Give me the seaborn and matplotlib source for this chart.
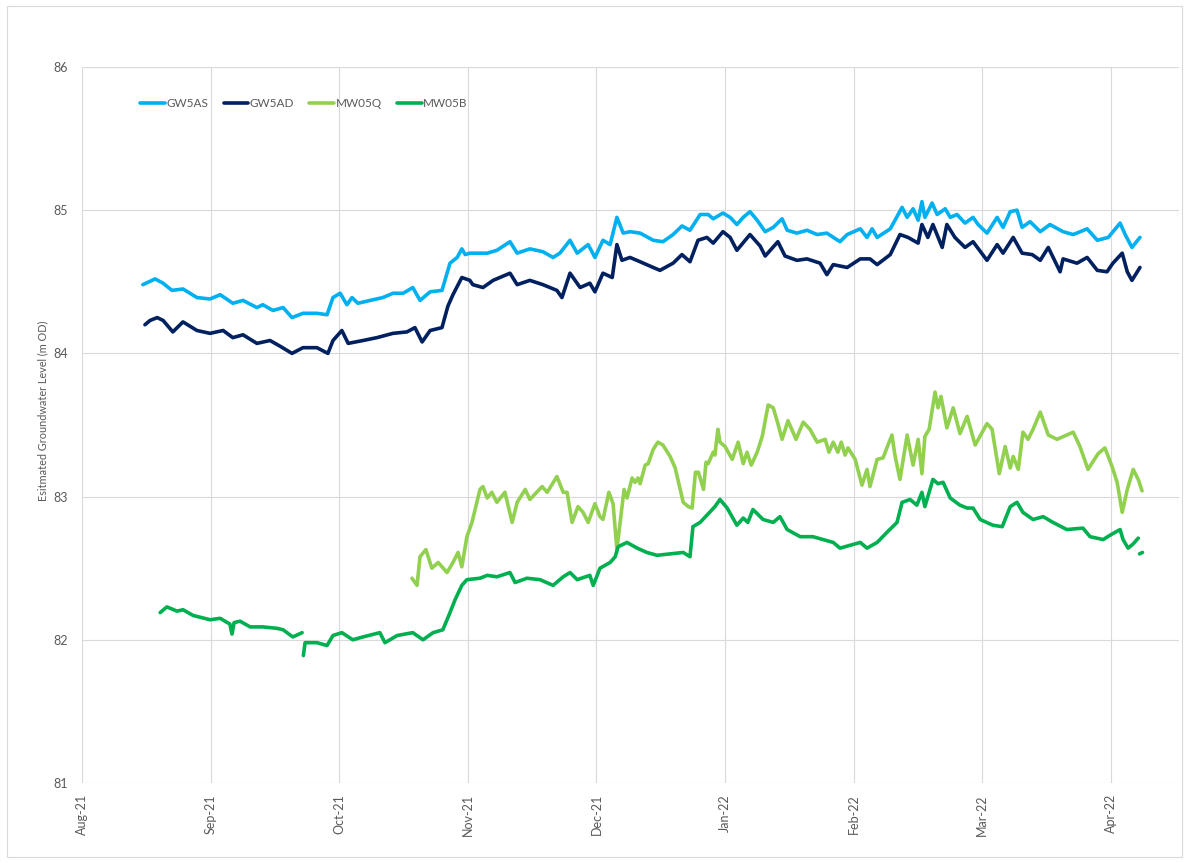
import matplotlib
matplotlib.use("Agg")
import matplotlib.pyplot as plt
from matplotlib.patches import Rectangle
import pandas as pd
import seaborn as sns

# Month labels along the x axis (equally spaced, one per month)
months = ["Aug-21", "Sep-21", "Oct-21", "Nov-21", "Dec-21",
          "Jan-22", "Feb-22", "Mar-22", "Apr-22"]
MONTH_DAYS = 365.25 / 12  # spacing of the month ticks, in days since 1 Aug 2021

# Groundwater levels (m OD) as (days since 1 Aug 2021, level)
gw5as = [
    (14.4, 84.48), (17.3, 84.52), (19.2, 84.49), (21.3, 84.44), (23.9, 84.45),
    (27.2, 84.39), (30.3, 84.38), (32.7, 84.41), (35.7, 84.35), (38.1, 84.37),
    (41.4, 84.32), (42.8, 84.34), (45.2, 84.30), (47.6, 84.32), (49.7, 84.25),
    (52.3, 84.28), (55.6, 84.28), (58.0, 84.27), (59.4, 84.39), (61.1, 84.42),
    (62.7, 84.34), (63.9, 84.39), (65.3, 84.35), (68.2, 84.37), (71.2, 84.39),
    (73.6, 84.42), (76.0, 84.42), (78.3, 84.46), (80.0, 84.37), (82.4, 84.43),
    (85.2, 84.44), (87.1, 84.63), (88.8, 84.67), (89.9, 84.73), (90.7, 84.69),
    (91.8, 84.70), (95.9, 84.70), (98.2, 84.72), (101.3, 84.78), (103.0, 84.70),
    (106.0, 84.73), (109.1, 84.71), (111.5, 84.67), (113.1, 84.70), (115.5, 84.79),
    (117.2, 84.70), (119.8, 84.76), (121.4, 84.67), (123.3, 84.79), (125.0, 84.76),
    (126.6, 84.95), (128.1, 84.84), (129.7, 84.85), (132.1, 84.84), (135.2, 84.79),
    (137.5, 84.78), (139.9, 84.83), (142.0, 84.89), (143.9, 84.86), (146.3, 84.97),
    (148.2, 84.97), (149.4, 84.94), (151.7, 84.98), (153.4, 84.95), (155.0, 84.90),
    (156.5, 84.95), (158.1, 84.99), (159.8, 84.93), (161.7, 84.85), (163.6, 84.88),
    (165.7, 84.94), (166.9, 84.86), (169.2, 84.84), (171.6, 84.86), (174.0, 84.83),
    (176.3, 84.84), (179.4, 84.78), (181.1, 84.83), (184.2, 84.87), (185.8, 84.81),
    (187.0, 84.87), (188.2, 84.81), (191.3, 84.87), (194.1, 85.02), (195.3, 84.95),
    (196.7, 85.01), (197.9, 84.93), (198.8, 85.06), (199.5, 84.95), (201.2, 85.05),
    (202.4, 84.97), (204.3, 85.01), (205.5, 84.95), (207.1, 84.97), (209.0, 84.91),
    (210.9, 84.95), (212.1, 84.90), (214.2, 84.84), (216.6, 84.95), (218.0, 84.88),
    (219.7, 84.99), (221.3, 85.00), (222.5, 84.88), (224.4, 84.92), (226.8, 84.85),
    (229.1, 84.90), (232.2, 84.85), (234.6, 84.83), (237.9, 84.87), (240.3, 84.79),
    (242.9, 84.81), (245.7, 84.91), (246.9, 84.83), (248.5, 84.74), (250.4, 84.81),
]

gw5ad = [
    (14.9, 84.20), (16.1, 84.23), (17.8, 84.25), (19.2, 84.23), (21.5, 84.15),
    (23.9, 84.22), (27.2, 84.16), (30.3, 84.14), (33.4, 84.16), (35.7, 84.11),
    (38.1, 84.13), (41.4, 84.07), (44.5, 84.09), (46.9, 84.05), (49.7, 84.00),
    (52.3, 84.04), (55.6, 84.04), (58.2, 84.00), (59.4, 84.09), (61.5, 84.16),
    (63.0, 84.07), (66.5, 84.09), (69.8, 84.11), (73.6, 84.14), (76.9, 84.15),
    (78.8, 84.18), (80.5, 84.08), (82.4, 84.16), (85.2, 84.18), (86.6, 84.33),
    (87.8, 84.41), (89.9, 84.53), (91.8, 84.51), (92.5, 84.48), (94.9, 84.46),
    (97.3, 84.51), (101.3, 84.56), (103.0, 84.48), (106.0, 84.51), (109.1, 84.48),
    (112.4, 84.44), (113.6, 84.39), (115.5, 84.56), (117.9, 84.46), (120.2, 84.49),
    (121.4, 84.43), (123.3, 84.56), (125.5, 84.53), (126.6, 84.76), (127.8, 84.65),
    (129.7, 84.67), (132.1, 84.64), (135.2, 84.60), (136.8, 84.58), (139.9, 84.63),
    (142.0, 84.69), (143.9, 84.64), (145.8, 84.79), (147.9, 84.81), (149.4, 84.77),
    (151.7, 84.85), (153.4, 84.81), (155.0, 84.72), (158.1, 84.83), (160.5, 84.75),
    (161.7, 84.68), (164.7, 84.78), (166.4, 84.68), (169.2, 84.65), (171.6, 84.66),
    (174.7, 84.63), (176.3, 84.55), (177.8, 84.62), (181.1, 84.60), (184.2, 84.66),
    (186.5, 84.66), (188.2, 84.62), (191.3, 84.69), (193.6, 84.83), (195.5, 84.81),
    (197.9, 84.77), (198.8, 84.90), (200.2, 84.81), (201.4, 84.90), (203.6, 84.74),
    (204.7, 84.90), (206.6, 84.81), (209.0, 84.74), (210.9, 84.78), (214.2, 84.65),
    (216.6, 84.76), (218.0, 84.70), (220.4, 84.81), (222.5, 84.70), (224.9, 84.69),
    (226.8, 84.65), (228.7, 84.74), (231.5, 84.57), (232.2, 84.66), (235.5, 84.63),
    (237.9, 84.67), (240.3, 84.58), (242.6, 84.57), (244.0, 84.63), (246.2, 84.70),
    (247.4, 84.57), (248.5, 84.51), (250.4, 84.60),
]

mw05q = [
    (78.1, 82.43), (79.3, 82.38), (80.0, 82.58), (81.4, 82.63), (82.8, 82.50),
    (84.3, 82.54), (86.4, 82.47), (87.8, 82.54), (89.0, 82.61), (89.9, 82.51),
    (91.1, 82.72), (92.3, 82.82), (94.2, 83.05), (94.9, 83.07), (95.9, 82.99),
    (97.0, 83.03), (98.2, 82.96), (100.1, 83.03), (101.8, 82.82), (103.0, 82.96),
    (104.9, 83.05), (106.0, 82.98), (108.9, 83.07), (110.1, 83.03), (112.4, 83.14),
    (113.9, 83.03), (114.8, 83.03), (116.0, 82.82), (117.4, 82.93), (118.6, 82.89),
    (119.8, 82.82), (121.4, 82.95), (122.6, 82.86), (123.3, 82.84), (124.7, 83.03),
    (125.7, 82.95), (126.6, 82.63), (128.3, 83.05), (129.0, 82.99), (130.2, 83.13),
    (130.9, 83.10), (131.6, 83.13), (132.1, 83.09), (133.3, 83.22), (134.0, 83.23),
    (135.2, 83.33), (136.3, 83.38), (137.5, 83.36), (139.2, 83.28), (140.4, 83.20),
    (141.6, 83.05), (142.3, 82.96), (143.5, 82.93), (144.4, 82.92), (145.2, 83.17),
    (145.9, 83.17), (147.1, 83.05), (147.7, 83.24), (148.2, 83.23), (149.4, 83.31),
    (149.8, 83.29), (150.5, 83.47), (151.0, 83.38), (152.2, 83.35), (153.9, 83.26),
    (155.3, 83.38), (156.5, 83.23), (157.4, 83.31), (158.4, 83.22), (159.8, 83.31),
    (161.0, 83.42), (162.4, 83.64), (163.6, 83.62), (164.7, 83.51), (165.7, 83.40),
    (167.1, 83.53), (169.0, 83.40), (170.7, 83.52), (172.3, 83.47), (174.0, 83.38),
    (175.9, 83.40), (176.8, 83.31), (177.8, 83.38), (178.9, 83.31), (179.7, 83.38),
    (180.6, 83.29), (181.3, 83.34), (183.0, 83.26), (184.6, 83.08), (185.8, 83.19),
    (186.5, 83.07), (188.2, 83.26), (189.6, 83.27), (190.5, 83.34), (191.7, 83.43),
    (192.4, 83.29), (193.6, 83.12), (195.3, 83.43), (196.7, 83.22), (197.9, 83.40),
    (198.8, 83.16), (199.5, 83.42), (200.5, 83.47), (201.9, 83.73), (202.6, 83.62),
    (203.3, 83.70), (204.7, 83.48), (206.2, 83.62), (207.8, 83.44), (209.5, 83.56),
    (211.4, 83.36), (214.2, 83.51), (215.4, 83.47), (217.1, 83.16), (218.5, 83.35),
    (219.7, 83.20), (220.4, 83.28), (221.6, 83.19), (222.7, 83.45), (223.9, 83.40),
    (225.1, 83.47), (226.8, 83.59), (228.7, 83.43), (230.8, 83.40), (234.6, 83.45),
    (236.2, 83.35), (238.1, 83.19), (240.5, 83.30), (242.1, 83.34), (243.8, 83.21),
    (245.0, 83.10), (246.2, 82.89), (247.4, 83.05), (248.8, 83.19), (250.0, 83.12),
    (250.9, 83.04),
]

# MW05B is logged in three separate runs
mw05b_run1 = [
    (18.5, 82.19), (20.1, 82.23), (22.5, 82.20), (23.9, 82.21), (26.3, 82.17),
    (30.3, 82.14), (32.7, 82.15), (35.0, 82.11), (35.5, 82.04), (36.0, 82.12),
    (37.4, 82.13), (39.8, 82.09), (42.8, 82.09), (46.2, 82.08), (47.6, 82.07),
    (49.9, 82.02), (52.1, 82.05),
]
mw05b_run2 = [
    (52.4, 81.89), (52.8, 81.98), (55.6, 81.98), (58.0, 81.96), (59.4, 82.03),
    (61.5, 82.05), (64.1, 82.00), (66.5, 82.02), (70.5, 82.05), (71.7, 81.98),
    (74.6, 82.03), (78.3, 82.05), (80.7, 82.00), (83.1, 82.05), (85.4, 82.07),
    (87.1, 82.19), (88.3, 82.28), (89.9, 82.38), (91.1, 82.42), (94.2, 82.43),
    (95.9, 82.45), (98.2, 82.44), (101.3, 82.47), (102.5, 82.40), (105.3, 82.43),
    (108.4, 82.42), (111.5, 82.38), (113.9, 82.44), (115.5, 82.47), (117.2, 82.42),
    (120.2, 82.45), (121.0, 82.38), (122.6, 82.50), (125.0, 82.54), (126.2, 82.58),
    (126.9, 82.65), (129.0, 82.68), (131.4, 82.64), (133.7, 82.61), (136.1, 82.59),
    (139.2, 82.60), (142.3, 82.61), (143.9, 82.58), (144.6, 82.79), (146.3, 82.82),
    (147.9, 82.87), (149.8, 82.93), (151.0, 82.98), (152.7, 82.92), (155.0, 82.80),
    (156.5, 82.85), (157.6, 82.82), (158.8, 82.91), (161.2, 82.84), (163.6, 82.82),
    (165.2, 82.86), (166.9, 82.77), (170.0, 82.72), (173.0, 82.72), (175.4, 82.70),
    (177.8, 82.68), (179.4, 82.64), (181.8, 82.66), (184.2, 82.68), (185.8, 82.64),
    (188.2, 82.68), (190.5, 82.75), (192.9, 82.82), (194.1, 82.96), (196.0, 82.98),
    (197.6, 82.94), (198.8, 83.03), (199.5, 82.93), (201.4, 83.12), (202.6, 83.09),
    (203.8, 83.10), (205.5, 82.99), (207.8, 82.94), (209.5, 82.92), (210.9, 82.92),
    (212.6, 82.84), (215.6, 82.80), (217.8, 82.79), (219.7, 82.93), (221.3, 82.96),
    (222.7, 82.89), (225.1, 82.84), (227.5, 82.86), (229.8, 82.82), (233.1, 82.77),
    (236.9, 82.78), (238.6, 82.72), (241.7, 82.70), (243.3, 82.73), (245.7, 82.77),
    (246.4, 82.70), (247.6, 82.64), (248.8, 82.67), (250.0, 82.71),
]
mw05b_run3 = [(250.3, 82.60), (251.0, 82.61)]

series_order = ["GW5AS", "GW5AD", "MW05Q", "MW05B"]
series_colors = {"GW5AS": "#00B0F0", "GW5AD": "#002060",
                 "MW05Q": "#92D050", "MW05B": "#00B050"}

runs = [("GW5AS", "GW5AS-1", gw5as), ("GW5AD", "GW5AD-1", gw5ad),
        ("MW05Q", "MW05Q-1", mw05q), ("MW05B", "MW05B-1", mw05b_run1),
        ("MW05B", "MW05B-2", mw05b_run2), ("MW05B", "MW05B-3", mw05b_run3)]
frames = []
for name, run_id, pts in runs:
    d = pd.DataFrame(pts, columns=["day", "level"])
    d["series"] = name
    d["run"] = run_id
    frames.append(d)
df = pd.concat(frames, ignore_index=True)

sns.set_theme(style="white")
plt.rcParams["font.family"] = ["Lato", "DejaVu Sans"]
TEXT = "#595959"
GRID = "#D9D9D9"

W, H = 1189, 863
fig = plt.figure(figsize=(W / 100, H / 100), dpi=100)
left, right, top, bottom = 82, 1179, 67, 783
ax = fig.add_axes([left / W, 1 - bottom / H, (right - left) / W, (bottom - top) / H])

sns.lineplot(data=df, x="day", y="level", hue="series", hue_order=series_order,
             units="run", estimator=None, sort=False, palette=series_colors,
             linewidth=2.6, ax=ax)

ax.set_xlim(0, (right - left) / (128.6 / MONTH_DAYS))
ax.set_ylim(81, 86)
ax.set_xticks([i * MONTH_DAYS for i in range(len(months))])
ax.set_xticklabels(months, rotation=90)
ax.set_yticks([81, 82, 83, 84, 85, 86])
ax.tick_params(axis="both", length=0, colors=TEXT, labelsize=9)
ax.tick_params(axis="x", pad=8)
ax.tick_params(axis="y", pad=10)
ax.grid(True, color=GRID, linewidth=0.8)
ax.set_axisbelow(True)
for s in ax.spines.values():
    s.set_visible(False)

ax.set_xlabel("")
ax.set_ylabel("Esitmated Groundwater Level (m OD)", fontsize=7.8, color=TEXT)
ax.yaxis.set_label_coords(-0.031, 0.52)

handles, labels = ax.get_legend_handles_labels()
ax.legend(handles, labels, loc="upper left", bbox_to_anchor=(0.049, 0.963),
          ncol=4, frameon=False, fontsize=8.5, labelcolor=TEXT,
          handlelength=2.1, handletextpad=0.1, columnspacing=1.3,
          borderaxespad=0)

fig.patches.append(Rectangle((7 / W, 6 / H), 1 - 14 / W, 1 - 12 / H,
                             transform=fig.transFigure, fill=False,
                             edgecolor=GRID, linewidth=0.8))

fig.savefig("out.png", dpi=100)
